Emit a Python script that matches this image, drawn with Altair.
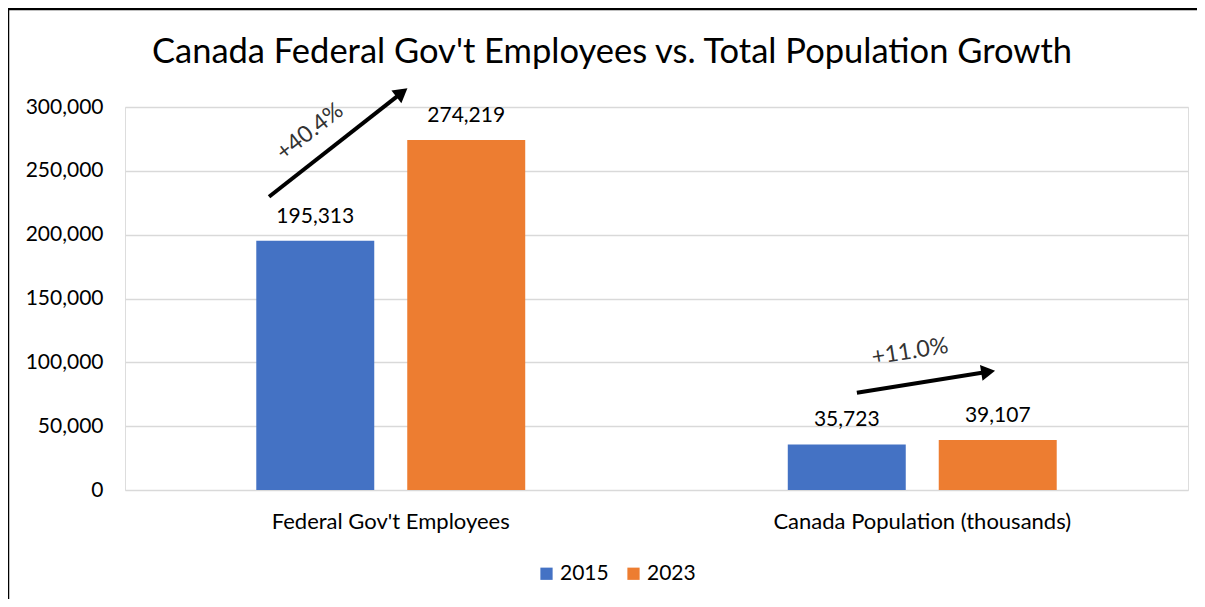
import altair as alt
import pandas as pd

FONT = "Lato"

title_text = "Canada Federal Gov't Employees vs. Total Population Growth"
categories = ["Federal Gov't Employees", "Canada Population (thousands)"]
years = ["2015", "2023"]
values_2015 = [195313, 35723]
values_2023 = [274219, 39107]
growth_labels = ["+40.4%", "+11.0%"]

rows = []
for i, c in enumerate(categories):
    rows.append({"category": c, "year": years[0], "value": values_2015[i]})
    rows.append({"category": c, "year": years[1], "value": values_2023[i]})
df = pd.DataFrame(rows)

# annotation geometry: x in category units (0..2 across plot), y in data units
arrow_x0 = [0.271, 1.377]
arrow_y0 = [229700, 76200]
arrow_x1 = [0.521, 1.624]
arrow_y1 = [311300, 92600]
arrow_angle = [52, 81]
label_x = [0.348, 1.477]
label_y = [280650, 108330]
label_angle = [322, 351]

ann = pd.DataFrame({
    "x0": arrow_x0, "y0": arrow_y0, "x1": arrow_x1, "y1": arrow_y1,
    "angle": arrow_angle, "lx": label_x, "ly": label_y, "langle": label_angle,
    "label": growth_labels,
})

y_scale = alt.Scale(domain=[0, 300000], nice=False)
y_axis = alt.Axis(title=None, values=list(range(0, 300001, 50000)), format=",",
                  labelExpr="format(datum.value, ',')",
                  labelFontSize=21, labelPadding=22, ticks=False, domain=False,
                  gridColor="#d9d9d9", gridWidth=1.5, labelColor="black", labelFont=FONT)

x_band = alt.X("category:N", sort=categories,
               scale=alt.Scale(paddingInner=0.494, paddingOuter=0.247),
               axis=alt.Axis(title=None, labelFontSize=22, labelPadding=21, ticks=False,
                             domain=False, grid=False, labelColor="black", labelAngle=0,
                             labelFont=FONT, labelLimit=0))
x_off = alt.XOffset("year:N", sort=years, scale=alt.Scale(paddingInner=0.2185, paddingOuter=0))
color = alt.Color("year:N", scale=alt.Scale(domain=years, range=["#4472C4", "#ED7D31"]),
                  legend=alt.Legend(title=None, orient="none", legendX=411, legendY=456,
                                    direction="horizontal", symbolType="square", symbolSize=150,
                                    labelFontSize=21, labelFont=FONT, columnPadding=14,
                                    labelOffset=3, symbolStrokeWidth=0, labelColor="black"))

bars = alt.Chart(df).mark_bar().encode(
    x=x_band, xOffset=x_off, y=alt.Y("value:Q", scale=y_scale, axis=y_axis), color=color
)
bar_labels = alt.Chart(df).mark_text(dy=-18, baseline="alphabetic", fontSize=21, font=FONT,
                                     color="black").encode(
    x=x_band, xOffset=x_off, y=alt.Y("value:Q", scale=y_scale, axis=y_axis),
    text=alt.Text("value:Q", format=",")
)
bar_group = alt.layer(bars, bar_labels)

xq = alt.Scale(domain=[0, 2], nice=False, zero=False)
shaft = alt.Chart(ann).mark_rule(strokeWidth=4, color="black").encode(
    x=alt.X("x0:Q", scale=xq, axis=None), x2="x1:Q",
    y=alt.Y("y0:Q", scale=y_scale, axis=None), y2="y1:Q"
)
heads = alt.Chart(ann).mark_point(shape="triangle-up", filled=True, size=260, color="black",
                                  opacity=1).encode(
    x=alt.X("x1:Q", scale=xq, axis=None),
    y=alt.Y("y1:Q", scale=y_scale, axis=None),
    angle=alt.Angle("angle:Q", scale=None)
)
growth = alt.Chart(ann).mark_text(fontSize=23, font=FONT, color="#333333",
                                  baseline="middle", align="center").encode(
    x=alt.X("lx:Q", scale=xq, axis=None),
    y=alt.Y("ly:Q", scale=y_scale, axis=None),
    text="label:N",
    angle=alt.Angle("langle:Q", scale=None)
)
arrow_group = alt.layer(shaft, heads, growth)

title = alt.Chart(alt.Data(values=[{"t": title_text}])).mark_text(
    fontSize=34.5, font=FONT, color="black", baseline="alphabetic", align="center"
).encode(x=alt.value(487), y=alt.value(-44), text="t:N")

frame = alt.Chart(alt.Data(values=[{"f": 1}])).mark_rect(
    fillOpacity=0, stroke="black", strokeWidth=2.5
).encode(x=alt.value(-117), x2=alt.value(1100), y=alt.value(-98), y2=alt.value(620))

chart = alt.layer(frame, bar_group, arrow_group, title).resolve_scale(
    x="independent", y="independent"
).properties(
    width=1063, height=383,
    autosize=alt.AutoSizeParams(type="none"),
    padding={"left": 117, "top": 99, "right": 9, "bottom": 109},
).configure_view(strokeWidth=0).configure(font=FONT)

chart.save("out.html", embed_options={"renderer": "svg", "actions": False})
